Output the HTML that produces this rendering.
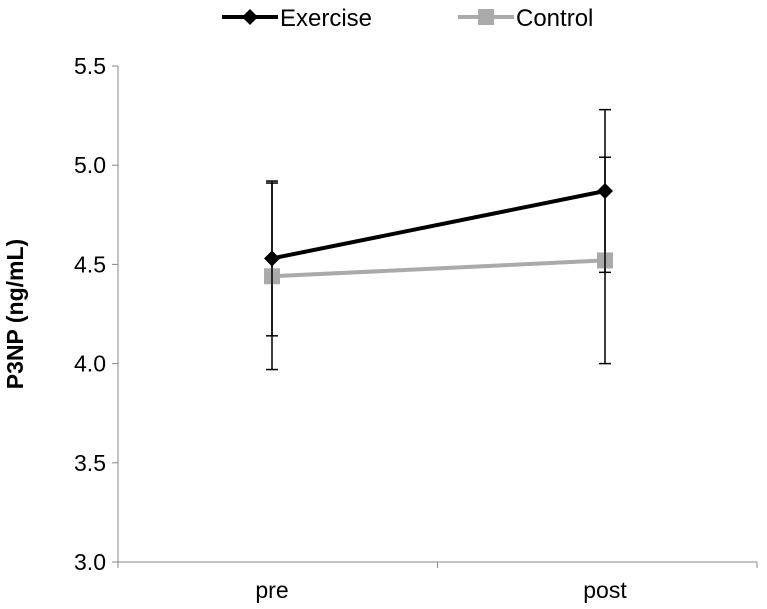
<!DOCTYPE html>
<html><head><meta charset="utf-8"><style>
body{margin:0;background:#fff;}
svg{display:block;font-family:"Liberation Sans",Arial,sans-serif;}
</style></head><body>
<svg id="chart" width="767" height="609" viewBox="0 0 767 609" xmlns="http://www.w3.org/2000/svg">
<g id="legend">
 <g>
  <line x1="222" y1="17" x2="278" y2="17" stroke="#000" stroke-width="4"/>
  <path d="M250 9 L258 17 L250 25 L242 17 Z" fill="#000"/>
  <text x="280" y="26" font-size="24" fill="#000">Exercise</text>
 </g>
 <g>
  <line x1="458" y1="17" x2="514" y2="17" stroke="#aaa" stroke-width="4"/>
  <rect x="478" y="9" width="16" height="16" fill="#aaa"/>
  <text x="516" y="26" font-size="24" fill="#000">Control</text>
 </g>
</g>
<text transform="translate(23,314) rotate(-90)" text-anchor="middle" font-size="23" font-weight="bold">P3NP (ng/mL)</text>
<g id="axes"></g>
<g id="marks"></g>
</svg>
<script>
const categories = ["pre","post"];
const exerciseMean = [4.53, 4.87];
const exerciseErr = [0.39, 0.41];
const controlMean = [4.44, 4.52];
const controlErr = [0.47, 0.52];
const yTicks = [3.0, 3.5, 4.0, 4.5, 5.0, 5.5];

const NS = "http://www.w3.org/2000/svg";
const x0 = 118, x1 = 757, yMin = 3.0, yMax = 5.5, py0 = 562, py1 = 66;
const cx0 = 272, cx1 = 605;
function yScale(v){ return py0 - (v - yMin) / (yMax - yMin) * (py0 - py1); }
function xScale(i){ return cx0 + (cx1 - cx0) * i / (categories.length - 1); }
function mk(tag, attrs, parent){ const e = document.createElementNS(NS, tag); for (const k in attrs) e.setAttribute(k, attrs[k]); parent.appendChild(e); return e; }

const axes = document.getElementById('axes');
const yAxis = mk('line', {x1:x0, y1:py1, x2:x0, y2:py0, stroke:'#888', 'stroke-width':1}, axes);


const xAxis = mk('line', {x1:x0, y1:py0, x2:x1, y2:py0, stroke:'#888', 'stroke-width':1}, axes);


yTicks.forEach(t => {
  const y = yScale(t);
  mk('line', {x1:x0 - 6, y1:y, x2:x0, y2:y, stroke:'#888'}, axes);
  const lb = mk('text', {x:x0 - 12, y:y + 8, 'text-anchor':'end', 'font-size':23}, axes);
  lb.textContent = t.toFixed(1);
  
  
});
[0,1,2].forEach(i => { const x = x0 + (x1 - x0) / 2 * i; mk('line', {x1:x, y1:py0, x2:x, y2:py0 + 6, stroke:'#888'}, axes); });
categories.forEach((c, i) => {
  const lb = mk('text', {x:xScale(i), y:py0 + 36, 'text-anchor':'middle', 'font-size':23}, axes);
  lb.textContent = c;
  
  
});

const marks = document.getElementById('marks');
function series(means, errs, color, name, square){
  const g = mk('g', {}, marks);
  
  
  means.forEach((m, i) => {
    const x = xScale(i);
    const eb = mk('g', {stroke:'#000', 'stroke-width':1.5}, g);
    
    
    mk('line', {x1:x, y1:yScale(m + errs[i]), x2:x, y2:yScale(m - errs[i])}, eb);
    mk('line', {x1:x - 6, y1:yScale(m + errs[i]), x2:x + 6, y2:yScale(m + errs[i])}, eb);
    mk('line', {x1:x - 6, y1:yScale(m - errs[i]), x2:x + 6, y2:yScale(m - errs[i])}, eb);
  });
  const pts = means.map((m, i) => xScale(i) + ',' + yScale(m)).join(' ');
  const ln = mk('polyline', {points:pts, fill:'none', stroke:color, 'stroke-width':4}, g);
  
  
  means.forEach((m, i) => {
    const x = xScale(i), y = yScale(m);
    const p = square ? mk('rect', {x:x - 8, y:y - 8, width:16, height:16, fill:color}, g)
                     : mk('path', {d:`M${x} ${y-8} L${x+8} ${y} L${x} ${y+8} L${x-8} ${y} Z`, fill:color}, g);
    
    
  });
}
series(controlMean, controlErr, '#aaa', 'control', true);
series(exerciseMean, exerciseErr, '#000', 'exercise', false);
</script>
</body></html>
